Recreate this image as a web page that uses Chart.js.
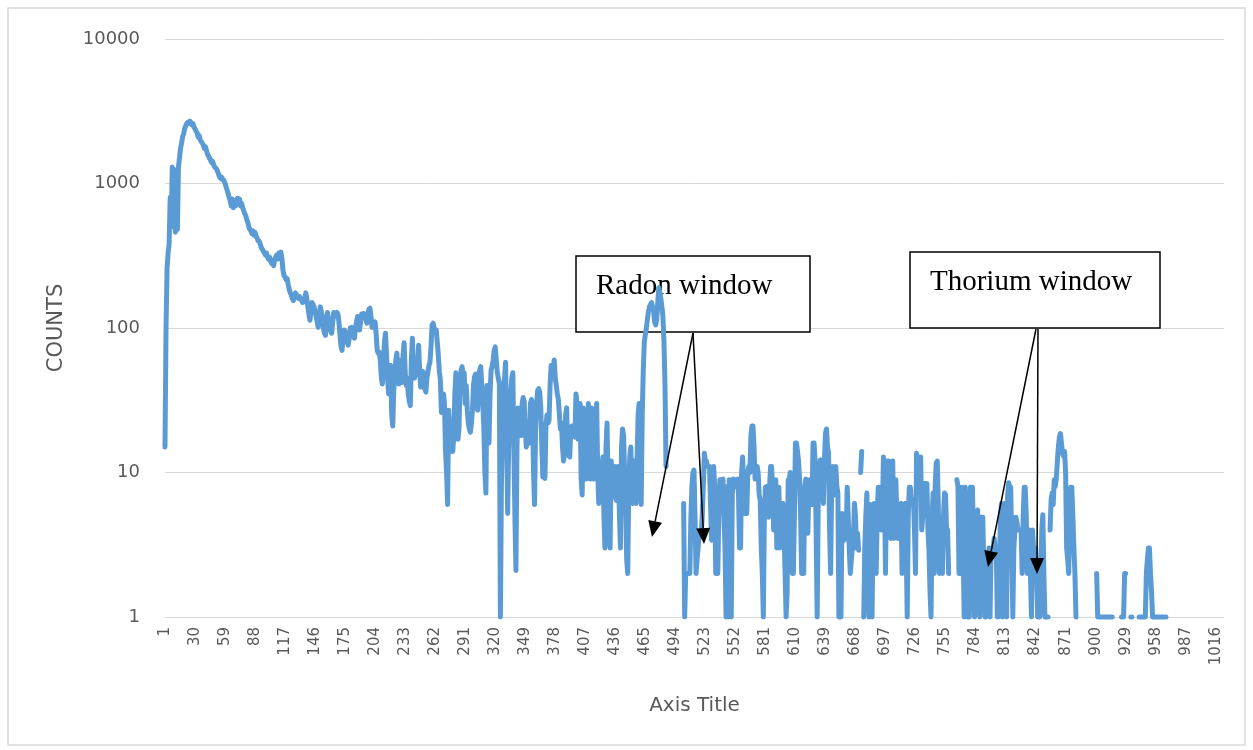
<!DOCTYPE html>
<html>
<head>
<meta charset="utf-8">
<script src="https://cdn.jsdelivr.net/npm/chart.js@4.4.1/dist/chart.umd.min.js"></script>
<style>
  html, body { margin: 0; padding: 0; background: #ffffff; }
  #wrap { width: 1253px; height: 750px; }
</style>
</head>
<body>
<div id="wrap"><canvas id="c" width="1253" height="750"></canvas></div>
<script>
// ---- data (counts per channel; null = zero count, not drawable on log axis) ----
const counts_001_100 = [
  15, 100, 260, 330, 380, 800, 500, 1300, 600, 1250,
  460, 1200, 480, 1300, 1500, 1750, 1900, 2100, 2200, 2400,
  2500, 2600, 2650, 2600, 2700, 2650, 2550, 2600, 2450, 2400,
  2300, 2250, 2100, 2150, 2000, 1950, 1900, 1850, 1750, 1800,
  1700, 1600, 1550, 1500, 1450, 1400, 1420, 1350, 1300, 1280,
  1250, 1200, 1150, 1100, 1080, 1100, 1060, 1050, 1000, 950,
  900, 850, 800, 760, 700, 780, 680, 760, 700, 720,
  790, 760, 780, 700, 730, 680, 650, 620, 600, 560,
  540, 500, 480, 470, 450, 470, 440, 460, 430, 420,
  400, 400, 380, 360, 350, 340, 330, 320, 330, 310
];
const counts_101_200 = [
  300, 310, 290, 280, 285, 270, 300, 310, 320, 300,
  330, 320, 335, 300, 250, 230, 225, 215, 220, 200,
  185, 175, 170, 160, 155, 165, 175, 170, 165, 160,
  165, 160, 155, 150, 155, 160, 175, 160, 140, 125,
  113, 130, 150, 145, 140, 130, 120, 110, 101, 120,
  140, 130, 120, 100, 92, 89, 110, 128, 115, 100,
  95, 92, 110, 128, 120, 125, 128, 126, 110, 90,
  75, 70, 85, 97, 95, 90, 80, 76, 85, 100,
  101, 95, 90, 85, 100, 110, 120, 105, 97, 110,
  125, 120, 126, 125, 115, 108, 125, 135, 137, 120
];
const counts_201_300 = [
  101, 110, 108, 110, 90, 70, 67, 68, 60, 45,
  41, 57, 80, 92, 65, 45, 35, 50, 55, 25,
  21, 37, 46, 60, 67, 50, 41, 55, 60, 42,
  65, 79, 50, 40, 45, 35, 31, 29, 60, 85,
  50, 45, 50, 48, 55, 76, 50, 39, 45, 50,
  42, 38, 36, 45, 50, 55, 58, 75, 105, 108,
  100, 95, 97, 80, 65, 50, 44, 26, 30, 35,
  30, 14, 10, 6, 27, 20, 14, 15, 14, 18,
  35, 49, 30, 17, 20, 40, 51, 54, 45, 49,
  30, 40, 27, 22, 20, 19, 22, 27, 40, 46
];
const counts_301_400 = [
  48, 35, 27, 45, 51, 54, 40, 30, 20, 10,
  7.2, 40, 25, 16, 35, 51, 54, 60, 70, 74,
  60, 49, 45, 41, 1, 8.4, 20, 39, 45, 58,
  20, 5.2, 15, 25, 35, 45, 49, 15, 5, 2.1,
  15, 28, 20, 22, 18, 30, 33, 31, 20, 15,
  16, 17, 16, 30, 32, 30, 10, 6, 20, 30,
  37, 38, 36, 28, 15, 9.3, 15, 9.1, 21, 25,
  22, 23, 40, 55, 45, 50, 60, 45, 40, 35,
  32, 25, 20, 22, 15, 12, 14, 25, 28, 15,
  13, 12.8, 20, 21, 21, 18, 17.6, 35, 30, 17
];
const counts_401_500 = [
  25, 30, 9, 7, 28, 15, 9, 9, 20, 30,
  12, 9, 28, 12, 9, 18, 25, 30, 10, 6.1,
  12, 8, 6.5, 12.8, 5, 3, 15, 22, 9, 5,
  3, 12, 10, 6.8, 8, 11, 6.4, 9, 11, 5,
  3, 15, 20, 18, 10, 6, 2.5, 2, 8, 13,
  15, 8, 6.1, 12, 10, 6.1, 12, 25, 30, 20,
  6, 25, 50, 80, 90, 100, 115, 130, 140, 145,
  150, 140, 130, 110, 105, 115, 150, 190, 175, 160,
  140, 120, 80, 40, 11, null, null, null, null, null,
  null, null, null, null, null, null, null, null, null, null
];
const counts_501_600 = [
  null, 6.1, 1, 2, 2, 2, 2, 2, 4.9, 8,
  10, 10.4, 5, 2, 2.5, 3, 3.8, 3.8, 3.8, 5,
  8, 13.6, 12, 12, 11, 11, 11, 6, 3.4, 6,
  11, 8, 2, 2, 2, 5, 8.9, 8.9, 8.9, 9,
  5, 2.9, 1, 8, 1, 8.9, 6.8, 1, 7, 9,
  8.9, 8, 8.9, 9, 7, 3, 3, 10, 12.8, 8,
  5.2, 5.5, 5.2, 10, 11, 10, 18, 21, 21, 15,
  9, 10, 11, 10, 7, 6.4, 3, 2, 1, 5,
  7.9, 8, 8, 4.9, 8, 11, 11, 7, 4, 6,
  8.9, 3, 5, 7.9, 3, 6.1, 6.1, 6.1, 4, 2
];
const counts_601_700 = [
  1, 1.5, 8.9, 9, 10, 8, 2, 2, 5, 16,
  16, 14, 12, 9, 5, 2, 2, 2, 8, 9,
  8.9, 3.8, 8, 8.9, 7, 6, 16, 16, 12, 4,
  1, 6.1, 10, 12.2, 12.2, 10, 6.1, 12, 18.6, 20,
  15, 13.6, 4, 2, 8, 11, 8, 7, 11, 8,
  7.2, 1, 1, 1, 5.2, 4, 3.4, 4, 3.6, 7.9,
  5, 3, 2, 2.5, 3, 3.5, 6.1, 5, 3, 3.8,
  2.9, null, 10, 14, null, 1, 3, 5, 7.2, 3,
  1, 6, 4, 1, 4, 6.1, 3, 2, 5, 7.9,
  7.9, 5, 4, 5, 12.8, 8, 2, 8, 12, 12
];
const counts_701_800 = [
  5, 3.5, 11, 12, 3.5, 6, 8.9, 5, 3.5, 4,
  6, 6.1, 2, 3, 5.5, 6.1, 3, 1, 5, 7.9,
  7.9, 6.1, 6.1, 6.5, 4, 2, 13.6, 12, 12, 11,
  12.8, 4, 5, 8.4, 8.4, 6, 8.4, 4, 2.9, 1.5,
  1, 5, 7.2, 2, 8, 11.6, 12, 6, 2, 4.5,
  3, 2, 5, 7.2, 7, 4, 4, 2, null, null,
  null, null, null, null, null, 8.9, 8, 2, 2, 2,
  7.9, 3, 1, 7.9, 5, 1, 1, 1, 7.9, 7.9,
  7.9, 3, 1, 2, 5, 5.5, 2, 1, 4.9, 4.9,
  4.9, 2, 1, 1, 2, 2, 3, 1, 3, 3
];
const counts_801_900 = [
  3, 3.5, 3, 3, 1, 1, 2, 5, 6.1, 1,
  5, 6.1, 2, 1, 7, 8.5, 7.9, 7.9, 3, 1,
  3, 4, 4.9, 4.5, 4, 4, 4, 4, 2, 5,
  7.9, 7.9, 5, 2, 3, 4, 2, 1, 4, 3,
  2, 3, 2, 1, 1, 1, 2, 4, 5.1, 2,
  1, null, 1, 1, null, 4, 6.5, 7.2, 6, 8.9,
  8, 9, 12, 15, 17.6, 18.6, 16, 13.6, 13, 14,
  10, 3, 2.5, 2, 5, 7.9, 7.9, 5, 3, 2,
  1, null, null, null, null, null, null, null, null, null,
  null, null, null, null, null, null, null, null, null, null
];
const counts_901_968 = [
  2, 1, 1, 1, 1, 1, 1, 1, 1, 1,
  1, 1, 1, 1, 1, 1, null, null, null, null,
  null, null, null, null, 1, 1, 1, 2, 2, null,
  null, null, null, 1, 1, null, null, null, null, null,
  null, 1, 1, 1, 1, 1, 1, 1, 2, 2.5,
  3, 3, 2, 1.5, 1, 1, 1, 1, 1, 1,
  1, 1, 1, 1, 1, 1, 1, 1
];
const counts = [].concat(counts_001_100, counts_101_200, counts_201_300, counts_301_400,
  counts_401_500, counts_501_600, counts_601_700, counts_701_800, counts_801_900, counts_901_968);

const channelCount = 1024;
const channels = Array.from({ length: channelCount }, (_, i) => String(i + 1));
const xTickStep = 29;
const yTicks = [1, 10, 100, 1000, 10000];

const seriesName = 'COUNTS';
const xTitle = 'Axis Title';
const yTitle = 'COUNTS';
const radonLabel = 'Radon window';
const thoriumLabel = 'Thorium window';

// ---- annotation plugin (boxes + arrows, chart border) ----
function arrow(ctx, x0, y0, x1, y1) {
  const ang = Math.atan2(y1 - y0, x1 - x0);
  const len = 16, hw = 7;
  const bx = x1 - len * Math.cos(ang), by = y1 - len * Math.sin(ang);
  ctx.beginPath();
  ctx.moveTo(x0, y0);
  ctx.lineTo(bx, by);
  ctx.stroke();
  ctx.beginPath();
  ctx.moveTo(x1, y1);
  ctx.lineTo(bx + hw * Math.sin(ang), by - hw * Math.cos(ang));
  ctx.lineTo(bx - hw * Math.sin(ang), by + hw * Math.cos(ang));
  ctx.closePath();
  ctx.fill();
}
const annotations = {
  id: 'annotations',
  beforeDraw(chart) {
    const ctx = chart.ctx;
    ctx.save();
    ctx.fillStyle = '#ffffff';
    ctx.fillRect(0, 0, chart.width, chart.height);
    ctx.strokeStyle = '#D9D9D9';
    ctx.lineWidth = 1.5;
    ctx.strokeRect(8, 8, 1237, 737);
    ctx.restore();
  },
  beforeDatasetsDraw(chart) {
    const ctx = chart.ctx;
    ctx.save();
    ctx.fillStyle = '#ffffff';
    ctx.strokeStyle = '#000000';
    ctx.lineWidth = 1.5;
    ctx.fillRect(576, 256, 234, 76);
    ctx.strokeRect(576, 256, 234, 76);
    ctx.fillRect(910, 252, 250, 76);
    ctx.strokeRect(910, 252, 250, 76);
    ctx.fillStyle = '#000000';
    ctx.font = '29px "Liberation Serif", "Times New Roman", serif';
    ctx.textBaseline = 'alphabetic';
    ctx.textAlign = 'left';
    ctx.fillText(radonLabel, 596, 294);
    ctx.fillText(thoriumLabel, 930, 290);
    ctx.restore();
  },
  afterDatasetsDraw(chart) {
    const ctx = chart.ctx;
    ctx.save();
    ctx.strokeStyle = '#000000';
    ctx.fillStyle = '#000000';
    ctx.lineWidth = 1.5;
    arrow(ctx, 693, 333, 652, 537);
    arrow(ctx, 693, 333, 704, 544);
    arrow(ctx, 1036, 329, 988, 567);
    arrow(ctx, 1038, 329, 1037, 574);
    ctx.restore();
  }
};

new Chart(document.getElementById('c'), {
  type: 'line',
  data: {
    labels: channels,
    datasets: [{
      label: seriesName,
      data: counts,
      borderColor: '#5B9BD5',
      backgroundColor: '#5B9BD5',
      borderWidth: 5,
      borderCapStyle: 'round',
      borderJoinStyle: 'round',
      pointRadius: 0,
      pointHoverRadius: 0,
      tension: 0,
      spanGaps: false,
      clip: false
    }]
  },
  options: {
    responsive: false,
    animation: false,
    events: [],
    layout: { padding: { left: 40, right: 29, top: 39, bottom: 29 } },
    plugins: {
      legend: { display: false },
      tooltip: { enabled: false },
      title: { display: false }
    },
    scales: {
      x: {
        type: 'category',
        offset: false,
        grid: { display: false, drawTicks: false },
        border: { display: false },
        ticks: {
          autoSkip: false,
          minRotation: 90,
          maxRotation: 90,
          padding: 10,
          color: '#595959',
          font: { family: '"DejaVu Sans", sans-serif', size: 15 }
        },
        afterBuildTicks(axis) {
          axis.ticks = axis.ticks.filter((t, i) => i % xTickStep === 0);
        },
        afterFit(axis) { axis.height = 750 - 617 - 29; },
        title: {
          display: true,
          text: xTitle,
          color: '#595959',
          font: { family: '"DejaVu Sans", sans-serif', size: 20 },
          padding: { top: 0, bottom: 3 }
        }
      },
      y: {
        type: 'logarithmic',
        min: 1,
        max: 10000,
        grid: { color: '#D9D9D9', lineWidth: 1, drawTicks: false },
        border: { display: false },
        afterBuildTicks(axis) {
          axis.ticks = yTicks.map(v => ({ value: v }));
        },
        ticks: {
          padding: 25,
          color: '#595959',
          font: { family: '"DejaVu Sans", sans-serif', size: 18 },
          callback: (v) => String(v)
        },
        afterFit(axis) { axis.width = 165 - 40; },
        title: {
          display: true,
          text: yTitle,
          color: '#595959',
          font: { family: '"DejaVu Sans", sans-serif', size: 21 },
          padding: { top: 4, bottom: 0 }
        }
      }
    }
  },
  plugins: [annotations]
});
</script>
</body>
</html>
